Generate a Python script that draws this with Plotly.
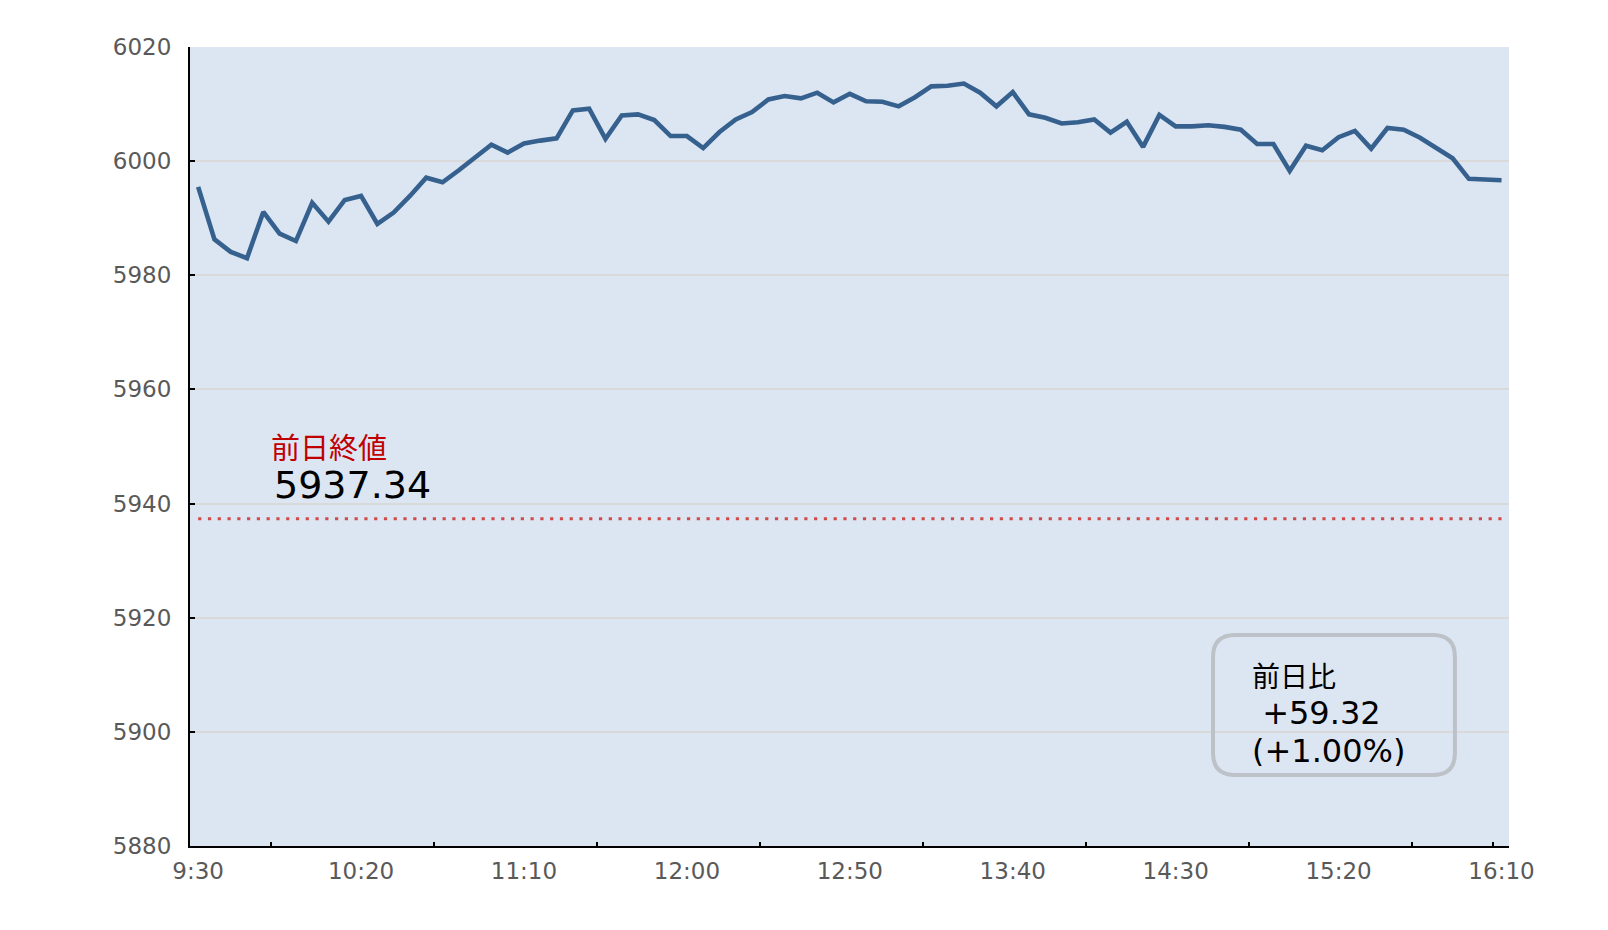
import plotly.graph_objects as go

# ---- data ----
open_time = "9:30"
step_minutes = 5
values = [
    5995.5, 5986.3, 5984.1, 5983.0, 5991.1, 5987.3, 5986.0, 5992.7, 5989.4, 5993.2,
    5993.9, 5989.0, 5991.0, 5993.9, 5997.1, 5996.3, 5998.4, 6000.6, 6002.9, 6001.5,
    6003.1, 6003.6, 6004.0, 6008.9, 6009.2, 6003.9, 6008.0, 6008.2, 6007.2, 6004.4,
    6004.4, 6002.3, 6005.1, 6007.3, 6008.6, 6010.8, 6011.4, 6011.0, 6012.0, 6010.3,
    6011.8, 6010.5, 6010.4, 6009.6, 6011.2, 6013.1, 6013.2, 6013.6, 6012.0, 6009.6,
    6012.1, 6008.2, 6007.6, 6006.6, 6006.8, 6007.3, 6005.0, 6006.9, 6002.5, 6008.1,
    6006.1, 6006.1, 6006.3, 6006.0, 6005.5, 6003.0, 6003.0, 5998.3, 6002.7, 6001.9,
    6004.2, 6005.3, 6002.2, 6005.8, 6005.5, 6004.1, 6002.3, 6000.5, 5996.9, 5996.7,
    5996.66,
]
prev_close = 5937.34
change = 59.32
change_pct = 1.00
tick_labels = ["9:30", "10:20", "11:10", "12:00", "12:50", "13:40", "14:30", "15:20", "16:10"]
minor_tick_minutes = [22.5, 72.5, 122.5, 172.5, 222.5, 272.5, 322.5, 372.5, 397.5]
y_ticks = [5880, 5900, 5920, 5940, 5960, 5980, 6000, 6020]


def to_min(s):
    h, m = s.split(":")
    return int(h) * 60 + int(m)


base = to_min(open_time)
minutes = [i * step_minutes for i in range(len(values))]
tick_vals = [to_min(s) - base for s in tick_labels]

FONT = "DejaVu Sans, Noto Sans CJK JP"
LINE = "#36618f"

fig = go.Figure()

fig.add_trace(go.Scatter(
    x=[minutes[0], minutes[-1]], y=[prev_close, prev_close],
    mode="lines", line=dict(color="#d04b4b", width=3.2, dash="3.2px,6.576px"),
    hoverinfo="skip", showlegend=False,
))

fig.add_trace(go.Scatter(
    x=minutes, y=values, mode="lines",
    line=dict(color=LINE, width=4.6, shape="linear"),
    showlegend=False,
))

fig.update_layout(
    width=1592, height=914,
    margin=dict(l=182, r=91, t=39, b=76),
    paper_bgcolor="white",
    plot_bgcolor="#dce6f2",
    font=dict(family=FONT, color="#595959", size=23),
    xaxis=dict(
        range=[-2.5, 402.3],
        tickmode="array", tickvals=tick_vals, ticktext=tick_labels,
        ticks="", showgrid=False, zeroline=False,
        showline=True, linecolor="black", linewidth=2,
        tickfont=dict(family=FONT, size=23, color="#595959"),
        ticklabelstandoff=3,
        minor=dict(tickmode="array", tickvals=minor_tick_minutes,
                   ticks="inside", ticklen=4, tickcolor="black", tickwidth=2,
                   showgrid=False),
    ),
    yaxis=dict(
        range=[5880, 6020],
        tickmode="array", tickvals=y_ticks,
        ticks="inside", ticklen=5, tickcolor="black", tickwidth=2,
        showgrid=True, gridcolor="#d9d9d9", gridwidth=2,
        zeroline=False,
        showline=True, linecolor="black", linewidth=2,
        tickfont=dict(family=FONT, size=23, color="#595959"),
        ticklabelstandoff=12,
    ),
)

# previous close label
fig.add_annotation(
    xref="paper", yref="paper", x=0.0597, y=0.501, xanchor="left", yanchor="middle",
    text="前日終値", showarrow=False, height=30, valign="middle",
    font=dict(family="Noto Sans CJK JP", size=29, color="#c00000"),
)
fig.add_annotation(
    xref="paper", yref="paper", x=0.0625, y=0.452, xanchor="left", yanchor="middle",
    text=f"{prev_close:.2f}", showarrow=False, height=34, valign="middle",
    font=dict(family=FONT, size=38, color="black"),
)

# change box (rounded rectangle)
x0, x1, y0, y1 = 0.7756, 0.959, 0.0889, 0.264
rx, ry = 22 / 1319, 22 / 799
path = (
    f"M {x0+rx},{y0} L {x1-rx},{y0} Q {x1},{y0} {x1},{y0+ry} "
    f"L {x1},{y1-ry} Q {x1},{y1} {x1-rx},{y1} "
    f"L {x0+rx},{y1} Q {x0},{y1} {x0},{y1-ry} "
    f"L {x0},{y0+ry} Q {x0},{y0} {x0+rx},{y0} Z"
)
fig.add_shape(type="path", xref="paper", yref="paper", path=path,
              line=dict(color="#bdc1c8", width=4), fillcolor="rgba(0,0,0,0)")

box_lines = ["前日比", f" +{change:.2f}", f"(+{change_pct:.2f}%)"]
box_y = [0.2145, 0.1665, 0.1185]
box_sizes = [28, 32, 32]
box_fonts = ["Noto Sans CJK JP", FONT, FONT]
for txt, yy, sz, ff in zip(box_lines, box_y, box_sizes, box_fonts):
    fig.add_annotation(
        xref="paper", yref="paper", x=0.804, y=yy, xanchor="left", yanchor="middle",
        text=txt.replace(" ", "&nbsp;"), showarrow=False, height=30, valign="middle",
        font=dict(family=ff, size=sz, color="black"),
    )

fig.write_html("out.html")
